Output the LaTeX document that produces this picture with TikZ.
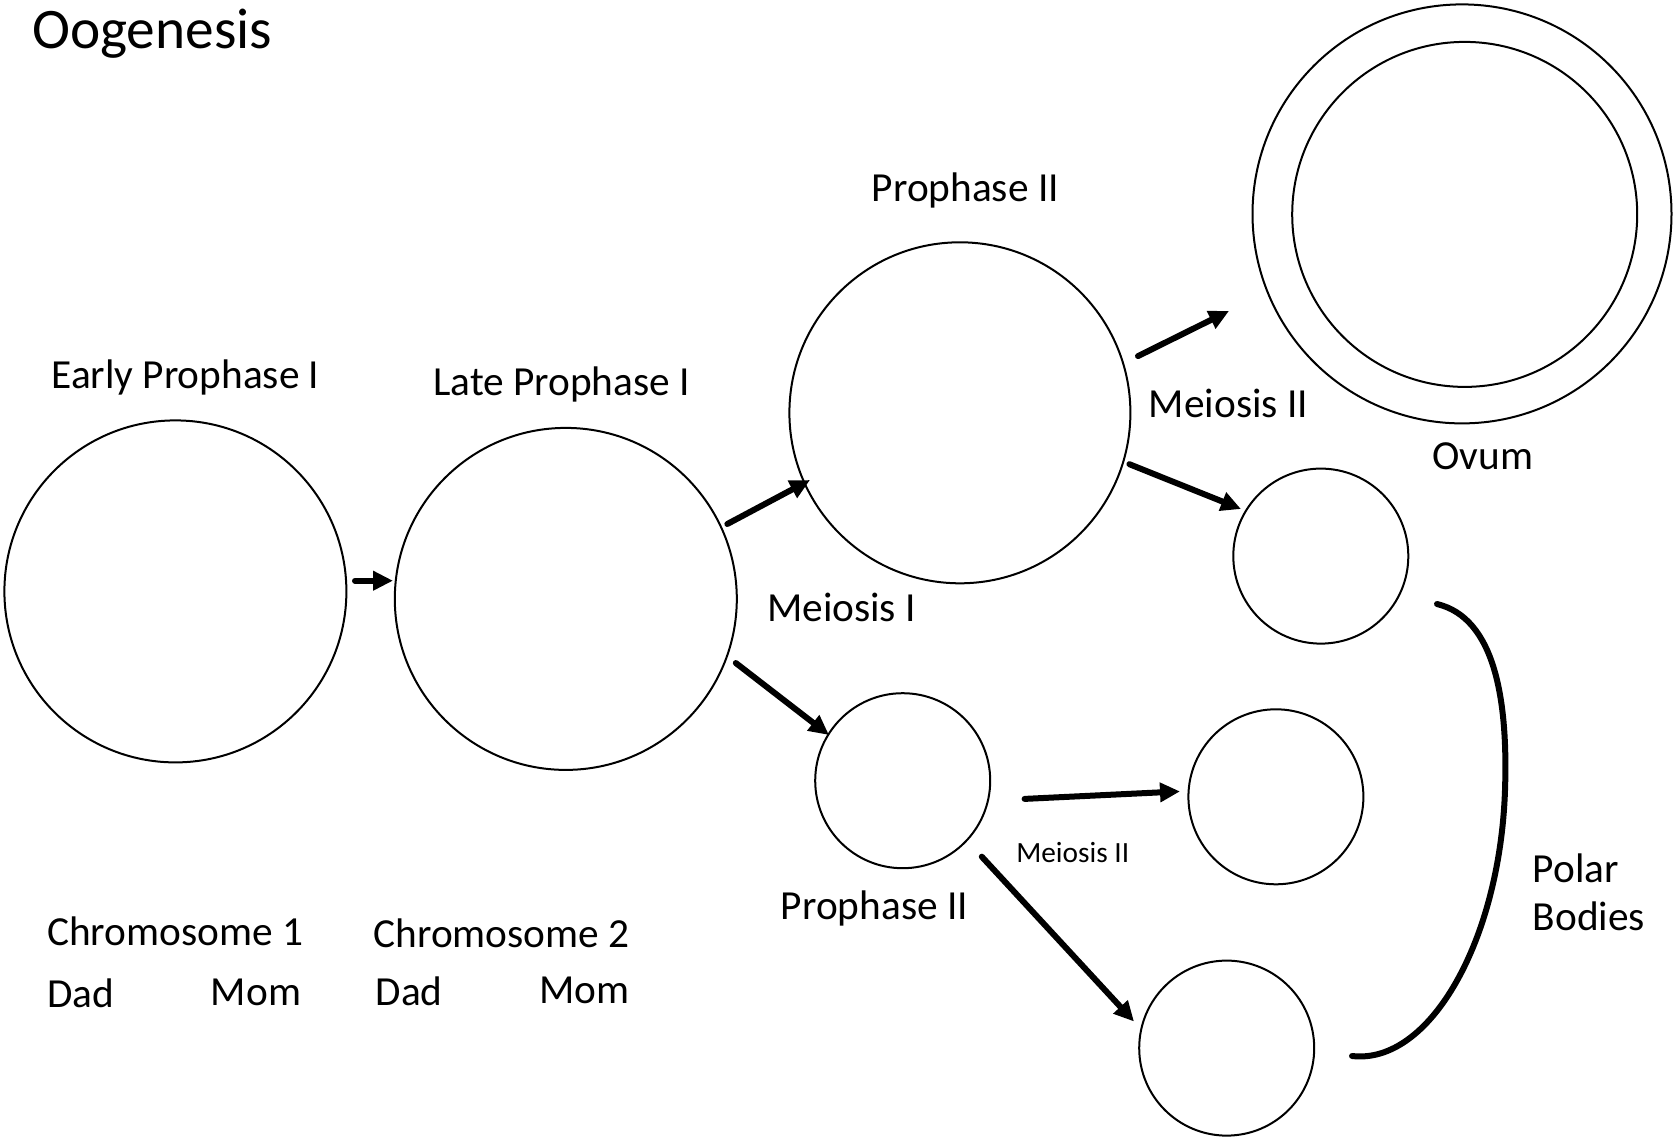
\documentclass[tikz,border=0pt]{standalone}
\usepackage{fontspec}
\setmainfont{Carlito}
\usetikzlibrary{arrows.meta}
\begin{document}
\begin{tikzpicture}[x=0.75pt,y=-0.75pt,
  cell/.style={draw,circle,line width=1.5pt,inner sep=0pt,outer sep=0pt},
  lbl/.style={anchor=base west,inner sep=0pt,font=\fontsize{31}{37}\selectfont},
  smalllbl/.style={anchor=base west,inner sep=0pt,font=\fontsize{22}{26}\selectfont},
  titlelbl/.style={anchor=base west,inner sep=0pt,font=\fontsize{43}{50}\selectfont},
  arr/.style={line width=4.5pt,line cap=round,-{Triangle[length=15pt,width=14pt,line cap=butt]}}]
\useasboundingbox (0,0) rectangle (1677,1138);
% cells (minimum size = diameter in px * 0.75pt)
\node[cell,minimum size=256.5pt] (early) at (175.4,591.4) {};
\node[cell,minimum size=256.5pt] (late) at (565.8,598.9) {};
\node[cell,minimum size=255.75pt] (p2a) at (959.9,412.8) {};
\node[cell,minimum size=314.25pt] (ovumout) at (1462,213.9) {};
\node[cell,minimum size=258.75pt] (ovumin) at (1464.7,214.4) {};
\node[cell,minimum size=131.25pt] (pb1) at (1320.8,556.1) {};
\node[cell,minimum size=131.25pt] (p2b) at (902.7,780.7) {};
\node[cell,minimum size=131.25pt] (pb2) at (1275.9,796.8) {};
\node[cell,minimum size=131.25pt] (pb3) at (1226.7,1048.1) {};
% labels
\node[titlelbl] (title) at (32,49) {Oogenesis};
\node[lbl] (tearly) at (51.3,388.2) {Early Prophase I};
\node[lbl] (tlate) at (433,395.7) {Late Prophase I};
\node[lbl] (tp2a) at (871.6,201) {Prophase II};
\node[lbl] (tm2a) at (1148.6,417) {Meiosis II};
\node[lbl] (tovum) at (1432,469.5) {Ovum};
\node[lbl] (tm1) at (766.8,621.4) {Meiosis I};
\node[smalllbl] (tm2b) at (1016,862) {Meiosis II};
\node[lbl] (tp2b) at (780.7,919.8) {Prophase II};
\node[lbl] (tpolar) at (1532.6,882.3) {Polar};
\node[lbl] (tbodies) at (1532.6,930.5) {Bodies};
\node[lbl] (tc1) at (47,945.4) {Chromosome 1};
\node[lbl] (td1) at (47,1007.5) {Dad};
\node[lbl] (tmo1) at (210.7,1005.3) {Mom};
\node[lbl] (tc2) at (373.3,947.6) {Chromosome 2};
\node[lbl] (td2) at (375.4,1005.3) {Dad};
\node[lbl] (tmo2) at (539,1003.2) {Mom};
% arrow end points
\coordinate (a1s) at (355,580.7);  \coordinate (a1e) at (393,580.7);
\coordinate (a2s) at (727.3,524);  \coordinate (a2e) at (810,480);
\coordinate (a3s) at (735.8,663);  \coordinate (a3e) at (829,735);
\coordinate (a4s) at (1138,356.1); \coordinate (a4e) at (1229,311);
\coordinate (a5s) at (1129.4,464.2); \coordinate (a5e) at (1241,509);
\coordinate (a6s) at (1024.6,798.9); \coordinate (a6e) at (1180,791.4);
\coordinate (a7s) at (981.8,856.7); \coordinate (a7e) at (1134,1021.5);
\draw[arr] (a1s) -- (a1e);
\draw[arr] (a2s) -- (a2e);
\draw[arr] (a3s) -- (a3e);
\draw[arr] (a4s) -- (a4e);
\draw[arr] (a5s) -- (a5e);
\draw[arr] (a6s) -- (a6e);
\draw[arr] (a7s) -- (a7e);
% polar bodies bracket
\coordinate (bs) at (1437,604);
\coordinate (bm) at (1505,790);
\coordinate (be) at (1352,1056);
\draw[line width=4.5pt,line cap=round] (bs) .. controls (1495,618) and (1508,700) .. (bm) .. controls (1500,940) and (1430,1065) .. (be);
\end{tikzpicture}
\end{document}
